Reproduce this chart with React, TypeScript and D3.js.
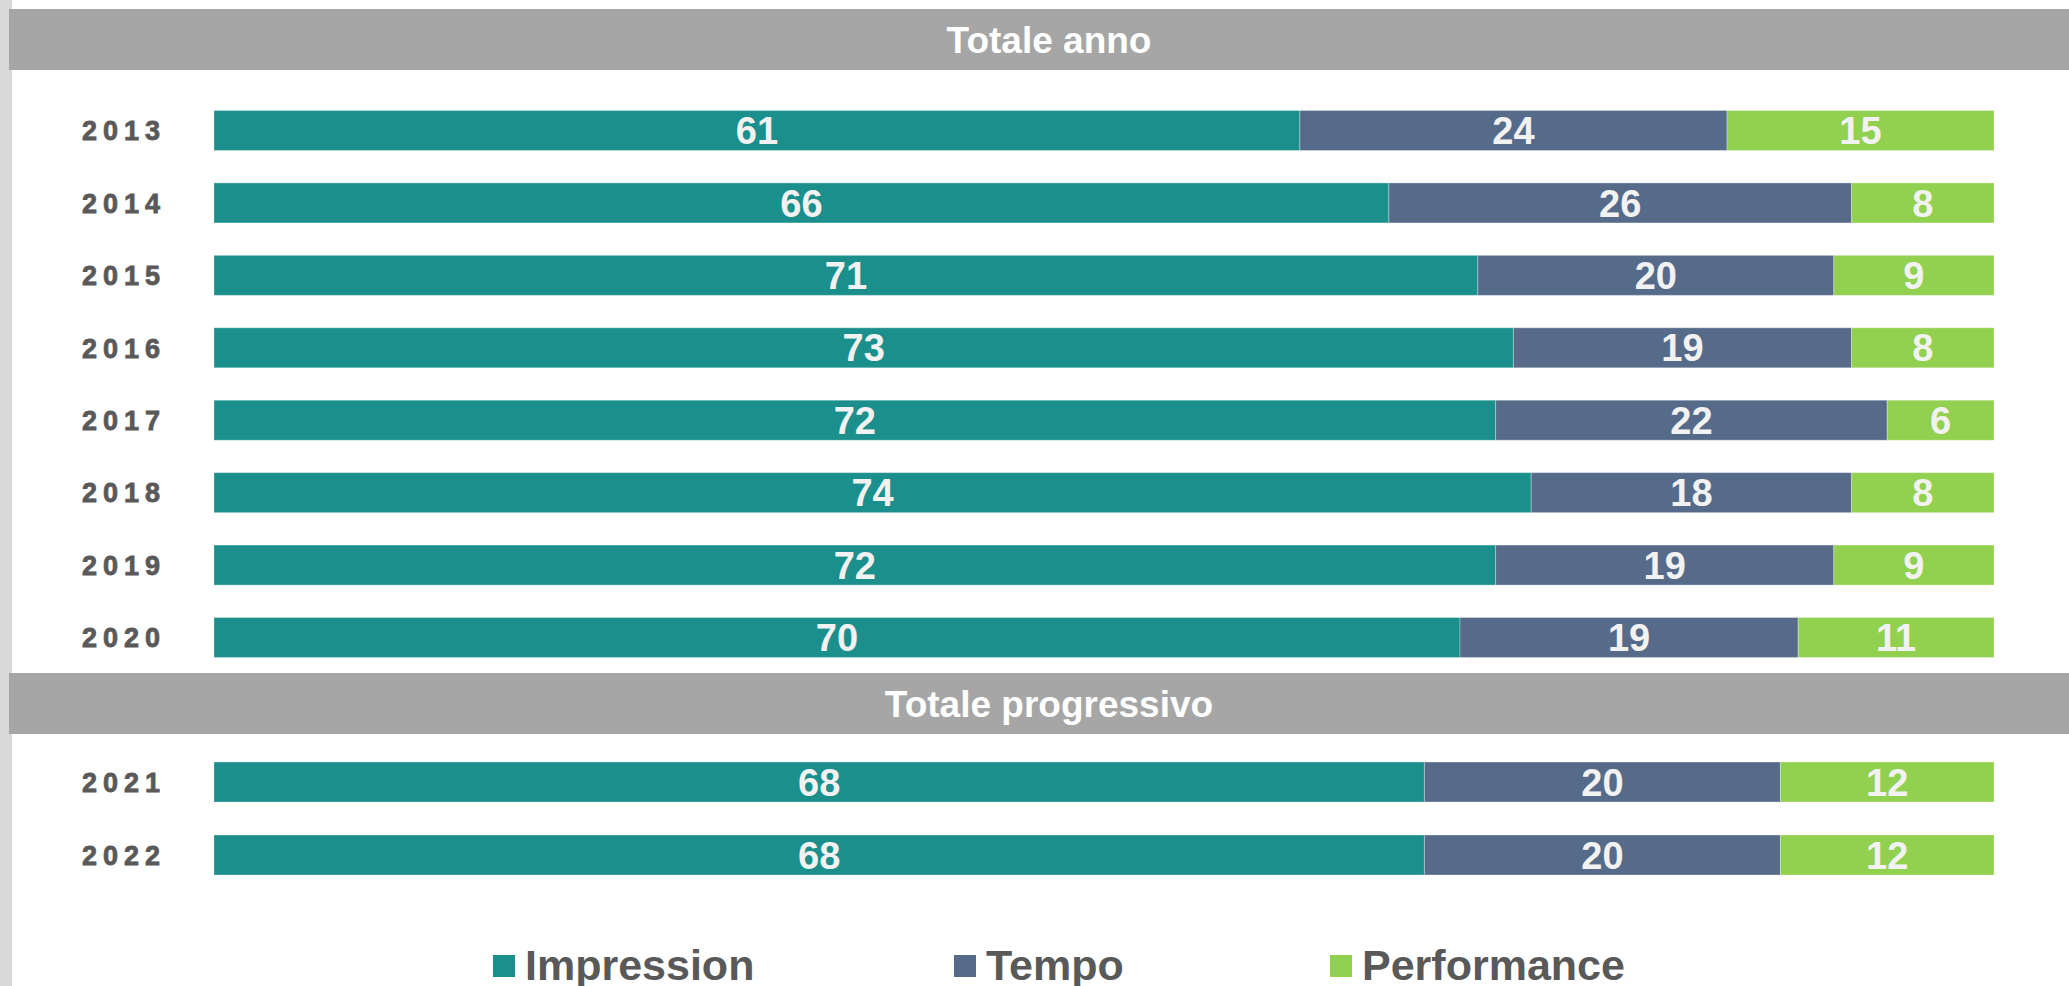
import React, { useEffect, useRef } from 'react'
import * as d3 from 'd3'

const width = 2069
const height = 986

const series = ['Impression', 'Tempo', 'Performance']
const colors = ['#1b8f8b', '#566b8a', '#92d050']

// yearly totals
const yearsAnno = ['2013', '2014', '2015', '2016', '2017', '2018', '2019', '2020']
const impressionAnno = [61, 66, 71, 73, 72, 74, 72, 70]
const tempoAnno = [24, 26, 20, 19, 22, 18, 19, 19]
const performanceAnno = [15, 8, 9, 8, 6, 8, 9, 11]

// progressive totals
const yearsProg = ['2021', '2022']
const impressionProg = [68, 68]
const tempoProg = [20, 20]
const performanceProg = [12, 12]

const sections = ['Totale anno', 'Totale progressivo']

const App = () => {
  const ref = useRef<SVGSVGElement>(null)

  useEffect(() => {
    const svg = d3.select(ref.current)
    svg.selectAll('*').remove()

    const x = d3.scaleLinear().domain([0, 100]).range([214, 1994])
    const yAnno = d3.scalePoint().domain(yearsAnno).range([130.5, 637.5])
    const yProg = d3.scalePoint().domain(yearsProg).range([782, 855])
    const barH = 40
    const font = '"Liberation Sans", Arial, sans-serif'

    // left grey strip
    svg.append('rect').attr('x', 0).attr('y', 0).attr('width', 12).attr('height', height).attr('fill', '#d9d9d9')

    // section headers
    const bandTops = [9, 673]
    sections.forEach((s, i) => {
      svg.append('rect').attr('x', 9).attr('y', bandTops[i]).attr('width', width - 9).attr('height', 61).attr('fill', '#a6a6a6')
      svg.append('text')
        .attr('x', 1049).attr('y', bandTops[i] + 30.5).attr('dy', '0.36em')
        .attr('text-anchor', 'middle')
        .style('font-family', font).style('font-weight', 'bold').style('font-size', '37px')
        .attr('fill', '#ffffff')
        .text(s)
    })

    const drawGroup = (years: string[], vals: number[][], y: d3.ScalePoint<string>) => {
      years.forEach((yr, i) => {
        const cy = y(yr) as number
        svg.append('text')
          .attr('x', 82).attr('y', cy).attr('dy', '0.36em')
          .style('font-family', font).style('font-weight', 'bold').style('font-size', '27px')
          .style('letter-spacing', '6px')
          .attr('fill', '#595959')
          .attr('stroke', '#595959').attr('stroke-width', 0.8)
          .text(yr)

        let acc = 0
        vals.forEach((v, k) => {
          const x0 = x(acc)
          const x1 = x(acc + v[i])
          acc += v[i]
          svg.append('rect')
            .attr('x', x0).attr('y', cy - barH / 2).attr('width', x1 - x0).attr('height', barH)
            .attr('fill', colors[k])
            .attr('stroke', 'rgba(255,255,255,0.3)').attr('stroke-width', 1)
          svg.append('text')
            .attr('x', (x0 + x1) / 2).attr('y', cy).attr('dy', '0.36em')
            .attr('text-anchor', 'middle')
            .style('font-family', font).style('font-weight', 'bold').style('font-size', '38px')
            .attr('fill', '#f2f2f2')
            .text(v[i])
        })
      })
    }

    drawGroup(yearsAnno, [impressionAnno, tempoAnno, performanceAnno], yAnno)
    drawGroup(yearsProg, [impressionProg, tempoProg, performanceProg], yProg)

    // legend, sits on the bottom edge like the original
    const legendX = d3.scaleOrdinal<string, number>().domain(series).range([493, 954, 1330])
    series.forEach((s, k) => {
      const g = svg.append('g').attr('transform', `translate(${legendX(s)},0)`)
      g.append('rect').attr('x', 0).attr('y', 955).attr('width', 22).attr('height', 22).attr('fill', colors[k])
      g.append('text')
        .attr('x', 32).attr('y', 980)
        .style('font-family', font).style('font-weight', 'bold').style('font-size', '43px')
        .attr('fill', '#595959')
        .text(s)
    })
  }, [])

  return (
    <svg ref={ref} width={width} height={height} style={{ position: 'absolute', left: 0, top: 0, background: '#fff' }} />
  )
}

export default App
